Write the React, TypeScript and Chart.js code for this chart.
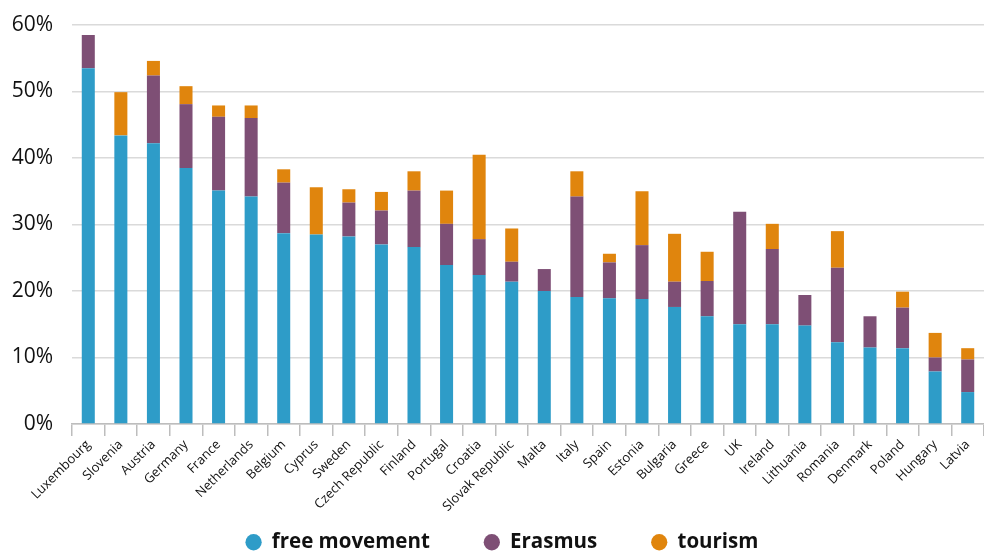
import React, { useEffect, useRef } from "react";
import { Chart, registerables } from "chart.js";

Chart.register(...registerables);

const countries = [
  "Luxembourg", "Slovenia", "Austria", "Germany", "France", "Netherlands", "Belgium",
  "Cyprus", "Sweden", "Czech Republic", "Finland", "Portugal", "Croatia", "Slovak Republic",
  "Malta", "Italy", "Spain", "Estonia", "Bulgaria", "Greece", "UK", "Ireland", "Lithuania",
  "Romania", "Denmark", "Poland", "Hungary", "Latvia",
];

const freeMovement = [
  53.5, 43.4, 42.2, 38.5, 35.1, 34.2, 28.7, 28.5, 28.2, 27.0, 26.6, 23.9, 22.4, 21.4,
  20.0, 19.1, 18.9, 18.8, 17.6, 16.2, 15.0, 15.0, 14.8, 12.3, 11.5, 11.4, 7.9, 4.8,
];

const erasmus = [
  5.0, 0, 10.2, 9.6, 11.1, 11.8, 7.6, 0, 5.1, 5.1, 8.5, 6.2, 5.4, 3.0,
  3.3, 15.1, 5.4, 8.1, 3.8, 5.3, 16.9, 11.3, 4.6, 11.2, 4.7, 6.1, 2.1, 4.9,
];

const tourism = [
  0, 6.5, 2.2, 2.7, 1.7, 1.9, 2.0, 7.1, 2.0, 2.8, 2.9, 5.0, 12.7, 5.0,
  0, 3.8, 1.3, 8.1, 7.2, 4.4, 0, 3.8, 0, 5.5, 0, 2.4, 3.7, 1.7,
];

const yTicks = [0, 10, 20, 30, 40, 50, 60];

const FONT = "'Open Sans', 'Noto Sans', sans-serif";

const legendShift = {
  id: "legendShift",
  afterLayout(chart: any) {
    const lg = chart.legend;
    if (lg) {
      lg.top = 478;
      lg.bottom = 554;
      lg.left += 10;
      lg.right += 10;
    }
  },
};

export default function App() {
  const ref = useRef<HTMLCanvasElement | null>(null);

  useEffect(() => {
    if (!ref.current) return;
    const chart = new Chart(ref.current, {
      type: "bar",
      data: {
        labels: countries,
        datasets: [
          { label: "free movement", data: freeMovement, backgroundColor: "#2E9CC8" },
          { label: "Erasmus", data: erasmus, backgroundColor: "#7E4F75" },
          { label: "tourism", data: tourism, backgroundColor: "#E0850D" },
        ],
      },
      plugins: [legendShift],
      options: {
        responsive: false,
        animation: false,
        layout: { padding: { top: 25, right: 0, left: 0, bottom: 0 } },
        datasets: {
          bar: { categoryPercentage: 1, barPercentage: 0.4 },
        },
        plugins: {
          tooltip: { enabled: false },
          legend: {
            position: "bottom",
            maxHeight: 38,
            labels: {
              usePointStyle: true,
              pointStyle: "circle",
              boxWidth: 16,
              boxHeight: 11.5,
              padding: 54,
              color: "#111",
              font: { family: FONT, size: 20.5, weight: "bold" },
            },
          },
        },
        scales: {
          x: {
            stacked: true,
            border: { display: true, color: "#bdbdbd", width: 1.5 },
            grid: {
              display: true,
              drawOnChartArea: false,
              drawTicks: true,
              tickLength: 12,
              color: "#bdbdbd",
              lineWidth: 1.5,
              offset: true,
            },
            ticks: {
              autoSkip: false,
              maxRotation: 45,
              minRotation: 45,
              color: "#111",
              padding: 1,
              font: { family: FONT, size: 13 },
            },
            afterFit: (s: any) => {
              s.height = 92;
              s.paddingLeft = 0;
              s.paddingRight = 0;
            },
          },
          y: {
            stacked: true,
            min: 0,
            max: 60,
            border: { display: false },
            grid: { color: "#dadada", lineWidth: 1.5, drawTicks: false },
            afterBuildTicks: (s: any) => {
              s.ticks = yTicks.map((v) => ({ value: v }));
            },
            afterFit: (s: any) => {
              s.width = 72;
              s.paddingTop = 0;
              s.paddingBottom = 0;
            },
            ticks: {
              color: "#111",
              padding: 19,
              font: { family: FONT, size: 21 },
              callback: (v: any) => v + "%",
            },
          },
        },
      },
    });
    return () => chart.destroy();
  }, []);

  return (
    <div style={{ position: "absolute", left: 0, top: 0, width: 984, height: 554, background: "#fff" }}>
      <canvas ref={ref} width={984} height={554} />
    </div>
  );
}
